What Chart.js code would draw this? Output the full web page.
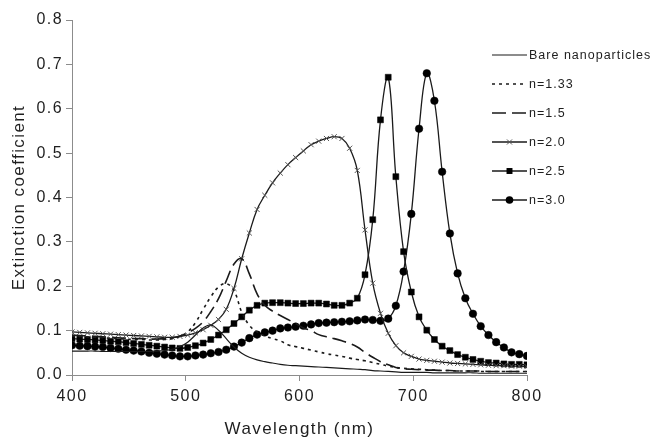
<!DOCTYPE html>
<html><head><meta charset="utf-8">
<script src="https://cdn.jsdelivr.net/npm/chart.js@4/dist/chart.umd.min.js"></script>
<style>html,body{margin:0;padding:0;background:#fff}</style>
</head><body>
<canvas id="c" width="653" height="442" style="width:653px;height:442px;display:block"></canvas>
<script>
const wavelengths = [400.0,406.8,413.6,420.3,427.1,433.9,440.7,447.5,454.2,461.0,
  467.8,474.6,481.4,488.1,494.9,501.7,508.5,515.3,522.0,528.8,
  535.6,542.4,549.2,555.9,562.7,569.5,576.3,583.1,589.8,596.6,
  603.4,610.2,616.9,623.7,630.5,637.3,644.1,650.8,657.6,664.4,
  671.2,678.0,684.7,691.5,698.3,705.1,711.9,718.6,725.4,732.2,
  739.0,745.8,752.5,759.3,766.1,772.9,779.7,786.4,793.2,800.0];
const bare = [0.054,0.054,0.054,0.054,0.053,0.053,0.053,0.053,0.053,0.053,
  0.053,0.054,0.055,0.058,0.064,0.074,0.090,0.106,0.113,0.101,
  0.082,0.063,0.049,0.040,0.034,0.030,0.027,0.024,0.022,0.021,
  0.020,0.019,0.018,0.017,0.016,0.015,0.014,0.013,0.012,0.010,
  0.009,0.008,0.007,0.006,0.006,0.006,0.006,0.005,0.005,0.005,
  0.005,0.005,0.005,0.004,0.004,0.004,0.004,0.004,0.004,0.004];
const n133 = [0.088,0.087,0.086,0.085,0.084,0.083,0.082,0.081,0.080,0.080,
  0.079,0.079,0.080,0.082,0.087,0.097,0.118,0.148,0.176,0.198,
  0.206,0.190,0.142,0.112,0.097,0.088,0.082,0.077,0.068,0.064,
  0.060,0.056,0.052,0.048,0.045,0.042,0.038,0.035,0.032,0.028,
  0.024,0.020,0.017,0.015,0.014,0.013,0.012,0.011,0.010,0.010,
  0.009,0.009,0.009,0.008,0.008,0.008,0.008,0.008,0.008,0.008];
const n15 = [0.090,0.089,0.088,0.087,0.086,0.085,0.084,0.083,0.082,0.082,
  0.081,0.081,0.082,0.084,0.088,0.095,0.105,0.120,0.143,0.172,
  0.212,0.250,0.262,0.228,0.183,0.157,0.144,0.134,0.125,0.116,
  0.106,0.100,0.091,0.086,0.082,0.077,0.071,0.063,0.051,0.040,
  0.030,0.023,0.017,0.014,0.013,0.012,0.011,0.011,0.010,0.010,
  0.009,0.009,0.009,0.009,0.008,0.008,0.008,0.008,0.008,0.008];
const n20 = [0.097,0.096,0.095,0.094,0.093,0.092,0.091,0.090,0.089,0.088,
  0.087,0.086,0.085,0.085,0.087,0.090,0.095,0.102,0.112,0.125,
  0.148,0.195,0.262,0.320,0.373,0.405,0.433,0.455,0.474,0.490,
  0.505,0.519,0.527,0.533,0.537,0.533,0.511,0.461,0.327,0.207,
  0.139,0.094,0.066,0.050,0.042,0.036,0.033,0.031,0.029,0.027,
  0.026,0.025,0.024,0.023,0.022,0.021,0.021,0.020,0.020,0.019];
const n25 = [0.082,0.081,0.080,0.079,0.078,0.076,0.075,0.073,0.071,0.069,
  0.067,0.065,0.063,0.061,0.060,0.062,0.066,0.072,0.080,0.090,
  0.102,0.116,0.131,0.146,0.157,0.162,0.163,0.163,0.162,0.161,
  0.161,0.162,0.162,0.160,0.157,0.157,0.162,0.173,0.226,0.350,
  0.575,0.671,0.447,0.278,0.187,0.131,0.101,0.080,0.065,0.055,
  0.046,0.040,0.035,0.031,0.028,0.027,0.025,0.024,0.024,0.023];
const n30 = [0.067,0.066,0.065,0.064,0.063,0.061,0.059,0.057,0.055,0.053,
  0.050,0.048,0.046,0.044,0.042,0.042,0.044,0.046,0.049,0.052,
  0.057,0.064,0.073,0.083,0.091,0.096,0.100,0.105,0.107,0.109,
  0.111,0.114,0.117,0.118,0.119,0.120,0.121,0.123,0.125,0.124,
  0.122,0.127,0.156,0.233,0.363,0.555,0.680,0.618,0.458,0.319,
  0.229,0.173,0.138,0.110,0.090,0.074,0.062,0.051,0.047,0.043];
const seriesLabels = ['Bare nanoparticles','n=1.33','n=1.5','n=2.0','n=2.5','n=3.0'];
const xTicks = [400,500,600,700,800];
const yTicks = [0.0,0.1,0.2,0.3,0.4,0.5,0.6,0.7,0.8];

const FONT = '"Liberation Sans", Arial, Helvetica, sans-serif';
const TXT = '#1e1e1e';
const AX = '#8c8c8c';
const pts = arr => arr.map((v,i)=>({x:wavelengths[i], y:v}));

const styles = [
  {data:bare, borderWidth:1.2, borderDash:[], pointStyle:false, pointRadius:0},
  {data:n133, borderWidth:1.6, borderDash:[3,4], pointStyle:false, pointRadius:0},
  {data:n15, borderWidth:1.6, borderDash:[14,6], pointStyle:false, pointRadius:0},
  {data:n20, borderWidth:1.3, borderDash:[], pointStyle:'crossRot', pointRadius:3.6, pointBorderColor:'#555', pointBorderWidth:1},
  {data:n25, borderWidth:1.3, borderDash:[], pointStyle:'rect', pointRadius:4.2, pointBorderColor:'#000', pointBackgroundColor:'#000', pointBorderWidth:0.5},
  {data:n30, borderWidth:1.3, borderDash:[], pointStyle:'circle', pointRadius:3.8, pointBorderColor:'#000', pointBackgroundColor:'#000', pointBorderWidth:0.5}
];

const datasets = styles.map((s,i)=>({
  label: seriesLabels[i],
  data: pts(s.data),
  borderColor:'#1a1a1a',
  backgroundColor:'#000',
  borderWidth:s.borderWidth,
  borderDash:s.borderDash,
  pointStyle:s.pointStyle || 'circle',
  pointRadius:s.pointRadius,
  pointHoverRadius:s.pointRadius,
  pointBorderColor:s.pointBorderColor || '#000',
  pointBackgroundColor:s.pointBackgroundColor || '#000',
  pointBorderWidth:s.pointBorderWidth || 1,
  tension:0.4,
  fill:false
}));

function setSpacing(ctx, px){ try{ ctx.letterSpacing = px; }catch(e){} }

const spacingPlugin = {
  id:'spacing',
  beforeLayout(chart){ setSpacing(chart.ctx,'1.4px'); },
  beforeDraw(chart){ setSpacing(chart.ctx,'1.4px'); }
};

function drawMarker(ctx, style, x, y, r){
  ctx.save();
  ctx.setLineDash([]);
  if(style==='crossRot'){
    const d = r*Math.SQRT1_2;
    ctx.strokeStyle='#555'; ctx.lineWidth=1;
    ctx.beginPath(); ctx.moveTo(x-d,y-d); ctx.lineTo(x+d,y+d); ctx.moveTo(x+d,y-d); ctx.lineTo(x-d,y+d); ctx.stroke();
  } else if(style==='rect'){
    const s = r*Math.SQRT1_2;
    ctx.fillStyle='#000'; ctx.fillRect(x-s,y-s,2*s,2*s);
  } else if(style==='circle'){
    ctx.fillStyle='#000'; ctx.beginPath(); ctx.arc(x,y,r,0,Math.PI*2); ctx.fill();
  }
  ctx.restore();
}

const legendPlugin = {
  id:'customLegend',
  afterDraw(chart){
    const ctx = chart.ctx;
    ctx.save();
    setSpacing(ctx,'1px');
    ctx.font = '12.5px ' + FONT;
    ctx.textBaseline = 'middle';
    ctx.textAlign = 'left';
    chart.data.datasets.forEach((ds,i)=>{
      const y = 55 + i*29;
      const x0 = 492, x1 = 527;
      ctx.save();
      ctx.strokeStyle = ds.borderColor;
      ctx.lineWidth = ds.borderWidth;
      ctx.setLineDash(ds.borderDash||[]);
      ctx.beginPath(); ctx.moveTo(x0,y); ctx.lineTo(x1,y); ctx.stroke();
      ctx.restore();
      if(ds.pointRadius>0) drawMarker(ctx, ds.pointStyle, (x0+x1)/2, y, ds.pointRadius);
      ctx.fillStyle = TXT;
      ctx.fillText(ds.label, 529, y+1);
    });
    ctx.restore();
  }
};

new Chart(document.getElementById('c').getContext('2d'), {
  type:'line',
  data:{datasets},
  options:{
    responsive:false,
    animation:false,
    devicePixelRatio:1,
    layout:{padding:{left:0, right:126, top:20, bottom:0}},
    plugins:{legend:{display:false}, tooltip:{enabled:false}},
    elements:{line:{capBezierPoints:true}},
    scales:{
      x:{
        type:'linear', min:400, max:800,
        afterBuildTicks(s){ s.ticks = xTicks.map(v=>({value:v})); },
        afterFit(s){ s.height = 67; },
        grid:{drawOnChartArea:false, drawTicks:true, tickLength:6, color:AX, lineWidth:1},
        border:{display:true, color:AX, width:1},
        ticks:{color:TXT, font:{family:FONT, size:16}, padding:6, maxRotation:0, autoSkip:false},
        title:{display:true, text:'Wavelength (nm)', color:TXT, font:{family:FONT, size:17}, padding:{top:0,bottom:2}}
      },
      y:{
        min:0, max:0.8,
        afterBuildTicks(s){ s.ticks = yTicks.map(v=>({value:v})); },
        afterFit(s){ s.width = 72; },
        grid:{drawOnChartArea:false, drawTicks:true, tickLength:6, color:AX, lineWidth:1},
        border:{display:true, color:AX, width:1},
        ticks:{color:TXT, font:{family:FONT, size:16}, padding:3, callback:v=>Number(v).toFixed(1)},
        title:{display:true, text:'Extinction coefficient', color:TXT, font:{family:FONT, size:17}, padding:{top:9,bottom:0}}
      }
    }
  },
  plugins:[spacingPlugin, legendPlugin]
});
</script>
</body></html>
